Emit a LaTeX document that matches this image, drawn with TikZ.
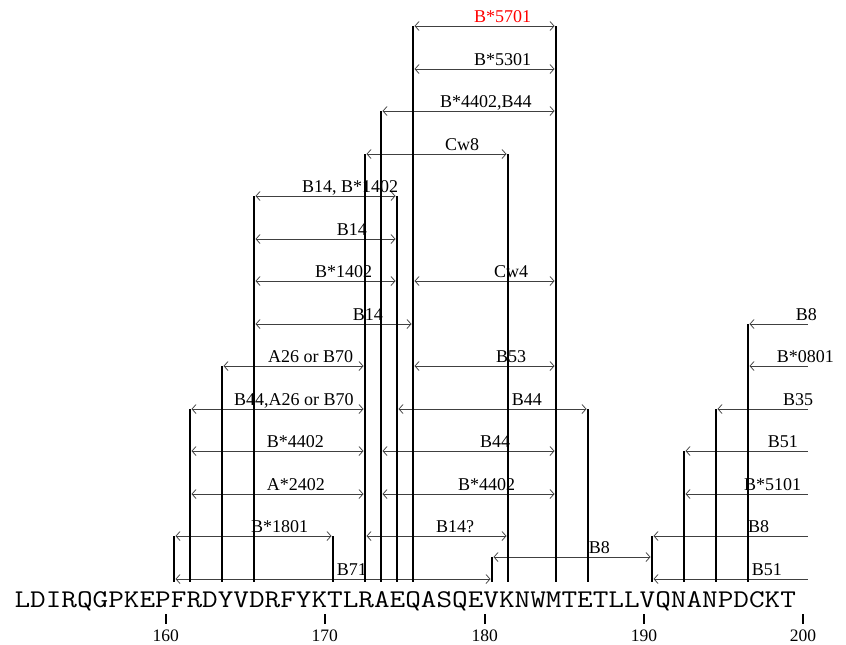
\documentclass[tikz,border=0pt]{standalone}
\usepackage{fontspec}
\setmainfont{Liberation Serif}
\usetikzlibrary{arrows.meta}
\begin{document}
\begin{tikzpicture}[x=1pt,y=-1pt,
  >={Straight Barb[length=4pt,width=9pt]},
  arr/.style={draw=black!75, line width=0.75pt},
  vline/.style={draw=black, line width=1.9pt},
  lab/.style={anchor=base west, inner sep=0pt, font=\fontsize{18}{20}\selectfont},
  tick/.style={draw=black, line width=1.6pt},
  num/.style={anchor=base, inner sep=0pt, font=\fontsize{17.5}{19}\selectfont}]
\useasboundingbox (0,0) rectangle (846,645);
% double-headed arrows
\foreach \a/\b/\y in {413/556/26, 413/556/69, 381/556/111, 365/508/154,
  254/397/196, 254/397/239, 254/397/281, 413/556/281, 254/413/324,
  222/365/366, 413/556/366, 190/365/409, 397/588/409, 190/365/451, 381/556/451,
  190/365/494, 381/556/494, 174/333/536, 365/508/536, 492/652/557, 174/492/579}
  \draw[arr,<->] ({\a+1.5},\y) -- ({\b-1.5},\y);
% left-headed arrows of right block
\foreach \a/\y in {748/324, 748/366, 716/409, 684/451, 684/494, 652/536, 652/579}
  \draw[arr,<-] ({\a+1.5},\y) -- (808,\y);
% vertical lines
\foreach \x/\t in {174/536, 190/409, 222/366, 254/196, 333/536, 365/154, 381/111,
  397/196, 413/26, 492/557, 508/154, 556/26, 588/409, 652/536, 684/451, 716/409, 748/324}
  \draw[vline] (\x,\t) -- (\x,582);
% labels
\node[lab,text=red] (l0) at (474,22) {B*5701};
\node[lab] (l1) at (474,65) {B*5301};
\node[lab] (l2) at (440,107) {B*4402,B44};
\node[lab] (l3) at (445,150) {Cw8};
\node[lab] (l4) at (302,192) {B14, B*1402};
\node[lab] (l5) at (336.7,235) {B14};
\node[lab] (l6a) at (315,277) {B*1402};
\node[lab] (l6b) at (494,277) {Cw4};
\node[lab] (l7) at (352.7,320) {B14};
\node[lab] (l8a) at (268,362) {A26 or B70};
\node[lab] (l8b) at (496,362) {B53};
\node[lab] (l9a) at (234,405) {B44,A26 or B70};
\node[lab] (l9b) at (511.7,405) {B44};
\node[lab] (l10a) at (266.7,447) {B*4402};
\node[lab] (l10b) at (480,447) {B44};
\node[lab] (l11a) at (266.7,490) {A*2402};
\node[lab] (l11b) at (458,490) {B*4402};
\node[lab] (l12a) at (251,532) {B*1801};
\node[lab] (l12b) at (436,532) {B14?};
\node[lab] (l12c) at (588.7,553) {B8};
\node[lab] (l13) at (336.7,575) {B71};
\node[lab] (r7) at (795.7,320) {B8};
\node[lab] (r8) at (776.7,362) {B*0801};
\node[lab] (r9) at (783,405) {B35};
\node[lab] (r10) at (767.7,447) {B51};
\node[lab] (r11) at (744,490) {B*5101};
\node[lab] (r12) at (748,532) {B8};
\node[lab] (r13) at (751.7,575) {B51};
% sequence
\node[anchor=base west, inner sep=0pt, font=\ttfamily\fontsize{25.5}{27}\selectfont] (seq) at (14.4,607) {\scalebox{1.19}[1]{LDIRQGPKEPFRDYVDRFYKTLRAEQASQEVKNWMTETLLVQNANPDCKT}};
% axis
\foreach \x/\n in {165.7/160, 324.7/170, 484.7/180, 644/190, 803/200} {
  \draw[tick] (\x,614) -- (\x,624);
  \node[num] (n\n) at (\x,641) {\n};
}
\end{tikzpicture}
\end{document}
